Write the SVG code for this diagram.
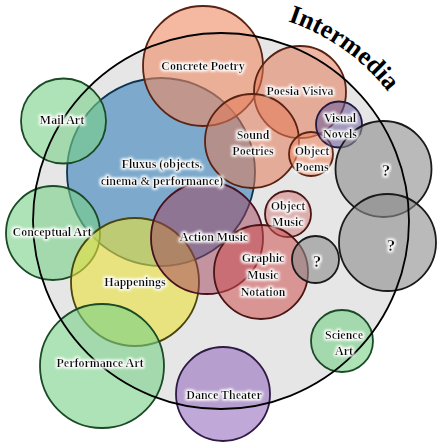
<svg xmlns="http://www.w3.org/2000/svg" width="441" height="448" viewBox="0 0 441 448">
<style>
text{font-family:"Liberation Serif","DejaVu Serif",serif;font-weight:bold;font-size:12px;fill:#111;text-anchor:middle}
.lbl{filter:url(#glow)}
.q{font-size:17px}
.title{font-size:26px;text-anchor:start;fill:#000}
circle{stroke-width:1.8}
.green{fill:#77d085;fill-opacity:.6;stroke:#1b4a26}
.blue{fill:#3c85bb;fill-opacity:.62;stroke:#0d3550}
.salmon{fill:#ee8963;fill-opacity:.6;stroke:#5a2212}
.orange{fill:#e27a58;fill-opacity:.55;stroke:#5a2212}
.yellow{fill:#e9e13a;fill-opacity:.6;stroke:#4a4510}
.purple{fill:#966ebe;fill-opacity:.6;stroke:#2e1a45}
.gray{fill:#8c8c8c;fill-opacity:.6;stroke:#1a1a1a}
.maroon{fill:#a0405a;fill-opacity:.5;stroke:#4a1020}
.red{fill:#cd5050;fill-opacity:.55;stroke:#4a1515}
.pink{fill:#d06868;fill-opacity:.45;stroke:#4a1515}
.violet{fill:#6a5a9a;fill-opacity:.55;stroke:#221a40}
</style>
<defs>
<filter id="glow" x="-20%" y="-60%" width="140%" height="220%">
<feMorphology in="SourceAlpha" operator="dilate" radius="1" result="d"/>
<feGaussianBlur in="d" stdDeviation="1.4" result="b"/>
<feFlood flood-color="#fff" result="w"/>
<feComposite in="w" in2="b" operator="in" result="g"/>
<feMerge><feMergeNode in="g"/><feMergeNode in="g"/><feMergeNode in="SourceGraphic"/></feMerge>
</filter>
<path id="arc" d="M 266.4 15.5 A 211 211 0 0 1 420 150"/>
</defs>
<rect width="441" height="448" fill="#fff"/>
<g id="intermedia-bg"><circle cx="221" cy="221" r="188" fill="#e6e6e6" stroke="none"/></g>

<g id="fluxus"><circle class="blue" cx="161" cy="172" r="94"/></g>
<g id="concrete-poetry"><circle class="salmon" cx="203" cy="66" r="60"/></g>
<g id="mail-art"><circle class="green" cx="63.5" cy="121" r="42.5"/></g>
<g id="conceptual-art"><circle class="green" cx="53" cy="233" r="47"/></g>
<g id="happenings"><circle class="yellow" cx="135" cy="282" r="64"/></g>
<g id="performance-art"><circle class="green" cx="102" cy="366" r="62"/></g>
<g id="dance-theater"><circle class="purple" cx="223" cy="394" r="47"/></g>
<g id="science-art"><circle class="green" cx="342" cy="341" r="31"/></g>
<g id="poesia-visiva"><circle class="orange" cx="300" cy="92" r="46"/></g>
<g id="sound-poetries"><circle class="orange" cx="252" cy="141" r="47"/></g>
<g id="object-poems"><circle class="salmon" cx="311" cy="154" r="22"/></g>
<g id="visual-novels"><circle class="violet" cx="339" cy="124.5" r="23"/></g>
<g id="unknown-1"><circle class="gray" cx="383.5" cy="169" r="48"/></g>
<g id="unknown-2"><circle class="gray" cx="387.5" cy="242.5" r="48.5"/></g>
<g id="action-music"><circle class="maroon" cx="207" cy="238" r="56"/></g>
<g id="object-music"><circle class="pink" cx="288" cy="214" r="23"/></g>
<g id="graphic-music-notation"><circle class="red" cx="261" cy="272" r="47"/></g>
<g id="unknown-3"><circle class="gray" cx="315.5" cy="259.5" r="23.5"/></g>

<g id="intermedia"><circle cx="221" cy="221" r="188" fill="none" stroke="#000" stroke-width="3.2"/>
<text class="title"><textPath href="#arc" startOffset="22">Intermedia</textPath></text></g>

<g id="labels">
<text class="lbl" x="203" y="70">Concrete Poetry</text>
<text class="lbl" x="300" y="95">Poesia Visiva</text>
<text class="lbl" x="340" y="122">Visual</text>
<text class="lbl" x="340" y="138">Novels</text>
<text class="lbl" x="253" y="139">Sound</text>
<text class="lbl" x="253" y="155">Poetries</text>
<text class="lbl" x="312" y="155">Object</text>
<text class="lbl" x="312" y="171">Poems</text>
<text class="lbl" x="62" y="124">Mail Art</text>
<text class="lbl" x="162" y="168">Fluxus (objects,</text>
<text class="lbl" x="162" y="185">cinema &amp; performance)</text>
<text class="lbl q" x="386" y="176">?</text>
<text class="lbl" x="288" y="210">Object</text>
<text class="lbl" x="288" y="226">Music</text>
<text class="lbl" x="52" y="236">Conceptual Art</text>
<text class="lbl" x="214" y="241">Action Music</text>
<text class="lbl q" x="391" y="251">?</text>
<text class="lbl q" x="317" y="267">?</text>
<text class="lbl" x="263" y="262">Graphic</text>
<text class="lbl" x="263" y="279">Music</text>
<text class="lbl" x="263" y="296">Notation</text>
<text class="lbl" x="135" y="286">Happenings</text>
<text class="lbl" x="100" y="367">Performance Art</text>
<text class="lbl" x="344" y="339">Science</text>
<text class="lbl" x="344" y="355">Art</text>
<text class="lbl" x="224" y="399">Dance Theater</text>
</g>
</svg>
